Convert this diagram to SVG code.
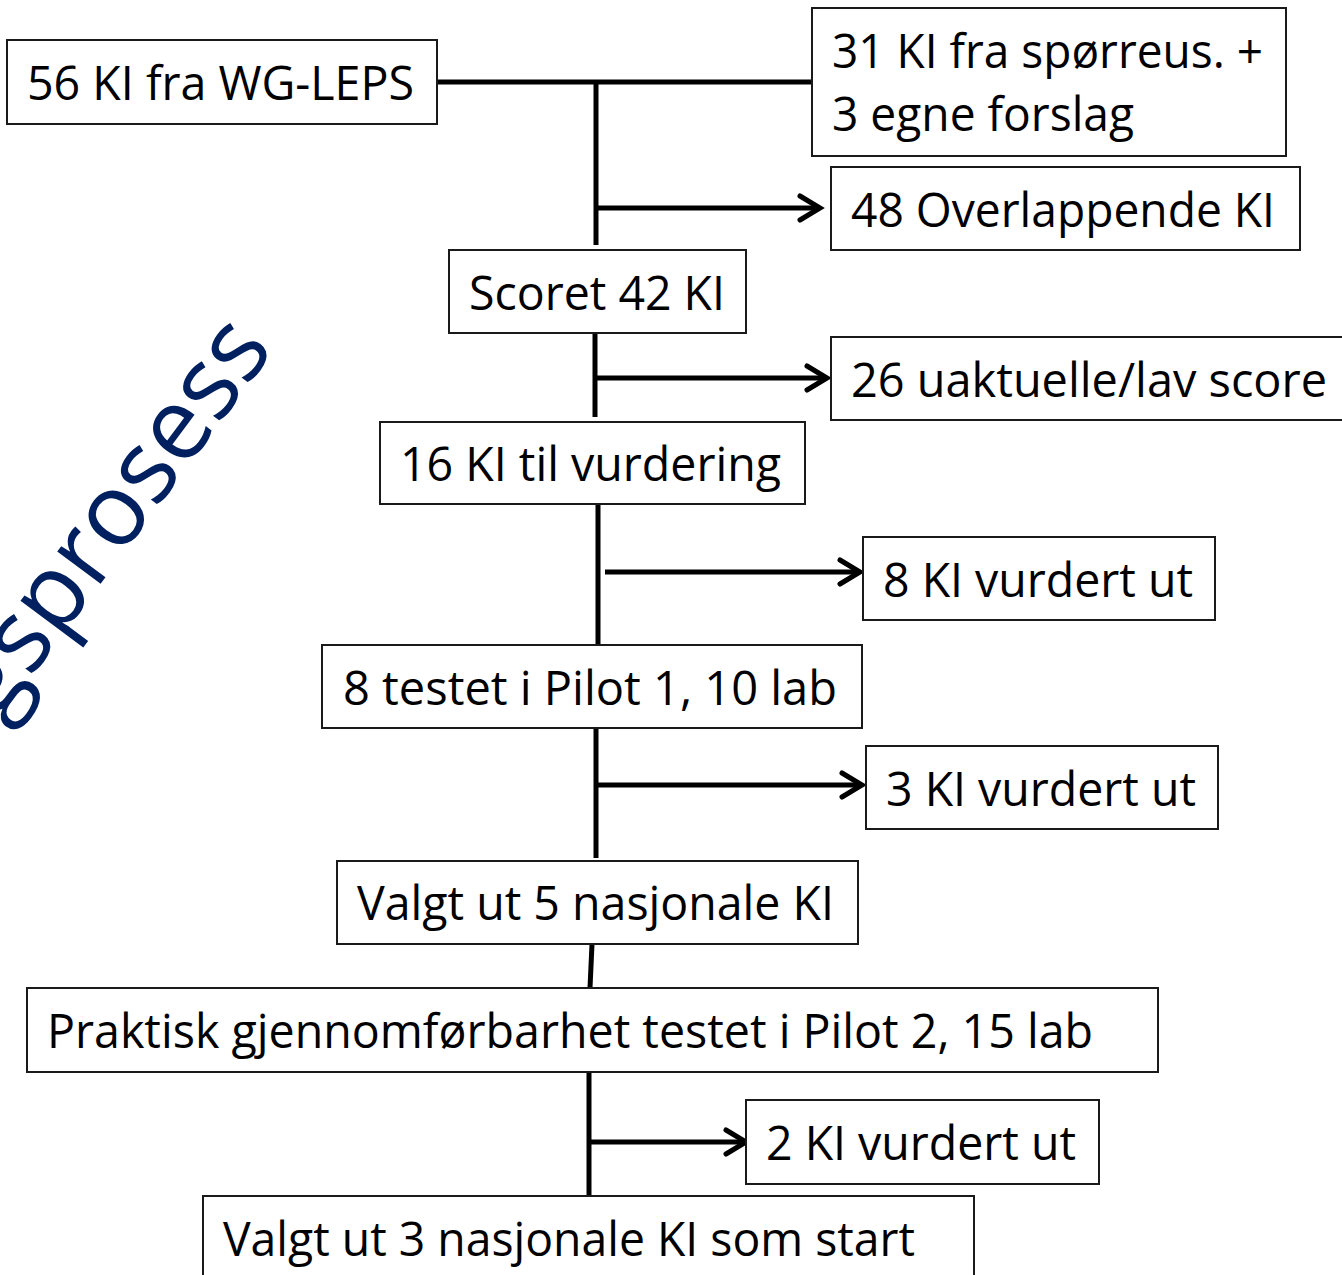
<svg xmlns="http://www.w3.org/2000/svg" width="1342" height="1275" viewBox="0 0 1342 1275">
<style>
.box{fill:#fff;stroke:#1a1a1a;stroke-width:2}
.t{font-family:"Open Sans","Liberation Sans",sans-serif;font-size:48px;fill:#000}
.ln{stroke:#000;stroke-width:5;fill:none}
.title{font-family:"Open Sans","Liberation Sans",sans-serif;font-size:101px;fill:#002060}
</style>
<defs>
<marker id="ah" markerUnits="userSpaceOnUse" viewBox="-26 -16 32 32" refX="0" refY="0" markerWidth="32" markerHeight="32" orient="auto">
<path d="M-20,-12 L0,0 L-20,12" fill="none" stroke="#000" stroke-width="5" stroke-linecap="round"/>
</marker>
</defs>
<rect width="1342" height="1275" fill="#fff"/>
<g id="title">
<text class="title" transform="translate(275,349) rotate(-53.4)" x="-705" y="0" textLength="705" lengthAdjust="spacingAndGlyphs">Utvalgsprosess</text>
</g>
<g id="connectors">
<line class="ln" x1="437" y1="82" x2="815" y2="82"/>
<line class="ln" x1="596" y1="82" x2="596" y2="245"/>
<line class="ln" x1="596" y1="208" x2="820" y2="208" marker-end="url(#ah)"/>
<line class="ln" x1="595" y1="333" x2="595" y2="417"/>
<line class="ln" x1="595" y1="378" x2="827" y2="378" marker-end="url(#ah)"/>
<line class="ln" x1="598" y1="504" x2="598" y2="645"/>
<line class="ln" x1="605" y1="572" x2="860" y2="572" marker-end="url(#ah)"/>
<line class="ln" x1="596" y1="728" x2="596" y2="858"/>
<line class="ln" x1="596" y1="785" x2="862" y2="785" marker-end="url(#ah)"/>
<line class="ln" x1="592" y1="944" x2="590" y2="988"/>
<line class="ln" x1="589" y1="1072" x2="589" y2="1196"/>
<line class="ln" x1="589" y1="1142" x2="746" y2="1142" marker-end="url(#ah)"/>
</g>
<g id="n1"><rect class="box" x="7" y="40" width="430" height="84"/><text class="t" x="27" y="100" textLength="387" lengthAdjust="spacingAndGlyphs">56 KI fra WG-LEPS</text></g>
<g id="n2"><rect class="box" x="812" y="8" width="474" height="148"/><text class="t" x="832" y="68" textLength="431" lengthAdjust="spacingAndGlyphs">31 KI fra spørreus. +</text><text class="t" x="832" y="131" textLength="302" lengthAdjust="spacingAndGlyphs">3 egne forslag</text></g>
<g id="n3"><rect class="box" x="831" y="167" width="469" height="83"/><text class="t" x="851" y="227" textLength="424" lengthAdjust="spacingAndGlyphs">48 Overlappende KI</text></g>
<g id="n4"><rect class="box" x="449" y="250" width="297" height="83"/><text class="t" x="469" y="310" textLength="256" lengthAdjust="spacingAndGlyphs">Scoret 42 KI</text></g>
<g id="n5"><rect class="box" x="831" y="337" width="520" height="83"/><text class="t" x="851" y="397" textLength="476" lengthAdjust="spacingAndGlyphs">26 uaktuelle/lav score</text></g>
<g id="n6"><rect class="box" x="380" y="422" width="425" height="82"/><text class="t" x="400" y="481" textLength="381" lengthAdjust="spacingAndGlyphs">16 KI til vurdering</text></g>
<g id="n7"><rect class="box" x="863" y="537" width="352" height="83"/><text class="t" x="883" y="597" textLength="310" lengthAdjust="spacingAndGlyphs">8 KI vurdert ut</text></g>
<g id="n8"><rect class="box" x="322" y="645" width="540" height="83"/><text class="t" x="343" y="705" textLength="494" lengthAdjust="spacingAndGlyphs">8 testet i Pilot 1, 10 lab</text></g>
<g id="n9"><rect class="box" x="866" y="746" width="352" height="83"/><text class="t" x="886" y="806" textLength="310" lengthAdjust="spacingAndGlyphs">3 KI vurdert ut</text></g>
<g id="n10"><rect class="box" x="337" y="861" width="521" height="83"/><text class="t" x="357" y="920" textLength="477" lengthAdjust="spacingAndGlyphs">Valgt ut 5 nasjonale KI</text></g>
<g id="n11"><rect class="box" x="27" y="988" width="1131" height="84"/><text class="t" x="47" y="1048" textLength="1046" lengthAdjust="spacingAndGlyphs">Praktisk gjennomførbarhet testet i Pilot 2, 15 lab</text></g>
<g id="n12"><rect class="box" x="746" y="1100" width="353" height="84"/><text class="t" x="766" y="1160" textLength="310" lengthAdjust="spacingAndGlyphs">2 KI vurdert ut</text></g>
<g id="n13"><rect class="box" x="203" y="1196" width="771" height="100"/><text class="t" x="223" y="1256" textLength="692" lengthAdjust="spacingAndGlyphs">Valgt ut 3 nasjonale KI som start</text></g>
</svg>
